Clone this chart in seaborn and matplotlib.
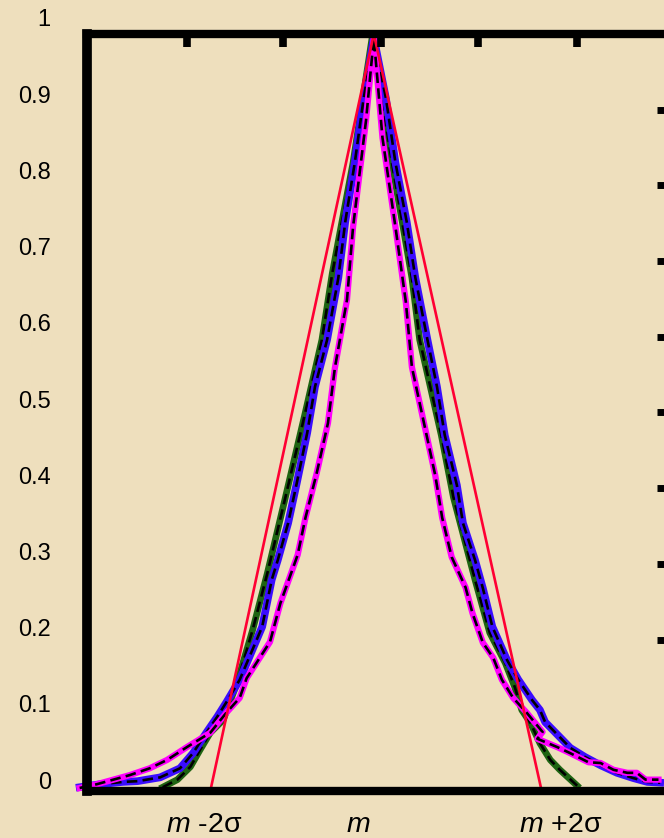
import matplotlib.pyplot as plt
import pandas as pd
import seaborn as sns

# curves, x in sigma units around m
green_x = [-2.42, -2.25, -2.10, -1.99, -1.87, -1.72, -1.56, -1.38, -1.21, -1.01, -0.77, -0.58, -0.46, -0.22, 0.00,
           0.23, 0.46, 0.55, 0.80, 0.94, 1.19, 1.36, 1.54, 1.65, 1.73, 1.83, 1.94, 2.06, 2.17, 2.37]
green_y = [0.005, 0.015, 0.032, 0.054, 0.077, 0.094, 0.143, 0.213, 0.288, 0.384, 0.501, 0.596, 0.684, 0.830, 0.995,
           0.830, 0.678, 0.596, 0.470, 0.388, 0.279, 0.209, 0.169, 0.137, 0.107, 0.090, 0.063, 0.041, 0.028, 0.007]

blue_x = [-3.38, -3.14, -2.88, -2.71, -2.45, -2.22, -2.07, -1.91, -1.79, -1.68, -1.53, -1.27, -1.16, -1.09, -0.97,
          -0.87, -0.75, -0.66, -0.52, -0.39, -0.31, -0.20, -0.10, 0.02,
          0.16, 0.27, 0.40, 0.50, 0.64, 0.75, 0.84, 0.98, 1.05, 1.19, 1.28, 1.39, 1.56, 1.69, 1.85, 1.94, 2.00,
          2.12, 2.29, 2.46, 2.64, 2.83, 3.02, 3.18, 3.33]
blue_y = [0.005, 0.009, 0.012, 0.013, 0.018, 0.030, 0.050, 0.078, 0.098, 0.118, 0.147, 0.217, 0.279, 0.305, 0.354,
          0.407, 0.473, 0.534, 0.596, 0.678, 0.752, 0.830, 0.913, 0.995,
          0.915, 0.830, 0.752, 0.678, 0.596, 0.534, 0.470, 0.404, 0.354, 0.305, 0.268, 0.217, 0.173, 0.147, 0.120,
          0.107, 0.091, 0.077, 0.057, 0.045, 0.034, 0.024, 0.017, 0.012, 0.011]

magenta_x = [-3.38, -3.18, -2.99, -2.80, -2.57, -2.37, -2.14, -1.87, -1.68, -1.53, -1.45, -1.18, -1.06, -0.86,
             -0.77, -0.64, -0.51, -0.43, -0.29, -0.22, -0.07, 0.02,
             0.12, 0.27, 0.39, 0.46, 0.73, 0.81, 0.92, 1.08, 1.16, 1.28, 1.40, 1.50, 1.63, 1.79, 1.97, 1.91,
             2.14, 2.29, 2.50, 2.64, 2.79, 2.95, 3.06, 3.16, 3.31]
magenta_y = [0.004, 0.009, 0.015, 0.021, 0.030, 0.041, 0.058, 0.077, 0.104, 0.123, 0.149, 0.197, 0.248, 0.312,
             0.361, 0.420, 0.486, 0.559, 0.649, 0.745, 0.886, 0.995,
             0.863, 0.745, 0.646, 0.560, 0.417, 0.361, 0.309, 0.269, 0.235, 0.196, 0.176, 0.147, 0.123, 0.103,
             0.078, 0.069, 0.058, 0.050, 0.038, 0.037, 0.028, 0.024, 0.024, 0.015, 0.015]

red_x = [-1.87, 0.02, 1.96]
red_y = [0.0, 1.0, 0.0]

y_labels = ['0', '0.1', '0.2', '0.3', '0.4', '0.5', '0.6', '0.7', '0.8', '0.9', '1']
right_ticks = [0.2, 0.3, 0.4, 0.5, 0.6, 0.7, 0.8, 0.9]
top_ticks = [-2.14, -1.03, 0.10, 1.225, 2.37]
bottom_ticks = [-2, 0, 2]
x_labels = [r'$m$ -2σ', r'$m$', r'$m$ +2σ']
x_label_pos = [-1.94, -0.16, 2.18]

plt.rcParams['font.family'] = ['Liberation Sans', 'DejaVu Sans']
plt.rcParams['mathtext.fontset'] = 'custom'
plt.rcParams['mathtext.it'] = 'Liberation Sans:italic'
plt.rcParams['mathtext.rm'] = 'Liberation Sans'

bg = '#EEDFBD'
fig = plt.figure(figsize=(6.64, 8.38), dpi=100, facecolor=bg)
ax = fig.add_axes([87 / 664, 47 / 838, 581 / 664, 757 / 838])
ax.set_facecolor('none')

curves = [(green_x, green_y, '#1E6412', 4.8),
          (blue_x, blue_y, '#3A0CFF', 5.5),
          (magenta_x, magenta_y, '#FF00FF', 4.5)]
for xs, ys, col, lw in curves:
    df = pd.DataFrame({'x': xs, 'y': ys})
    sns.lineplot(data=df, x='x', y='y', sort=False, estimator=None, color=col,
                 lw=lw, ax=ax, clip_on=False)
    sns.lineplot(data=df, x='x', y='y', sort=False, estimator=None, color='black',
                 lw=1.9, ls=(0, (4, 2)), ax=ax, clip_on=False)

sns.lineplot(x=red_x, y=red_y, sort=False, estimator=None, color='#FF0033', lw=1.9, ax=ax, zorder=2.2)

ax.set_xlim(-3.295, 3.42)
ax.set_ylim(0, 1)
ax.set_xlabel('')
ax.set_ylabel('')

ax.set_xticks(bottom_ticks)
ax.set_xticklabels([])
ax.tick_params(axis='x', direction='out', length=2, width=7, color='black')
ax.set_yticks(right_ticks)
ax.tick_params(axis='y', left=False, right=True, labelleft=False, direction='in',
               length=8, width=5, color='black')

ax.spines['right'].set_visible(False)
for side, lw in [('left', 7), ('top', 6), ('bottom', 6)]:
    ax.spines[side].set_linewidth(lw)
    ax.spines[side].set_color('black')
    ax.spines[side].set_capstyle('projecting')

tw = ax.twiny()
tw.set_xlim(ax.get_xlim())
tw.set_xticks(top_ticks)
tw.tick_params(axis='x', direction='in', length=9.5, width=5.5, labeltop=False, color='black')
for s in tw.spines.values():
    s.set_visible(False)

for pos, lab in zip(x_label_pos, x_labels):
    ax.text(pos, -0.045, lab, transform=ax.get_xaxis_transform(), ha='center', va='center', fontsize=20.5)

# left value column sits slightly off the data scale
lab_ax = fig.add_axes([55 / 664, 58 / 838, 0.01, 762 / 838])
lab_ax.set_ylim(0, 1)
lab_ax.set_yticks([i / 10 for i in range(11)])
lab_ax.set_yticklabels(y_labels, fontsize=17)
lab_ax.tick_params(axis='y', length=0, pad=3)
lab_ax.set_xticks([])
lab_ax.patch.set_visible(False)
for s in lab_ax.spines.values():
    s.set_visible(False)

fig.savefig('out.png', dpi=100, facecolor=bg)
